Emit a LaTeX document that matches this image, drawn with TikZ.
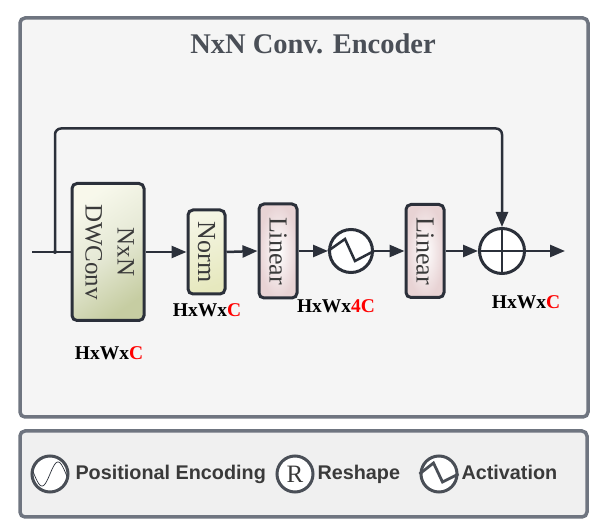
\documentclass[tikz,border=0pt]{standalone}
\usepackage{graphicx}
\usepackage{fontspec}
\setmainfont{Liberation Serif}
\newfontfamily\legendfont{Liberation Sans}
\usetikzlibrary{arrows.meta}

\definecolor{framegray}{HTML}{6F7580}
\definecolor{linedark}{HTML}{2B303A}
\definecolor{titlegray}{HTML}{4A4F57}
\definecolor{textgray}{HTML}{3A3A3A}
\definecolor{olive}{HTML}{C6CDA2}
\definecolor{paleyellow}{HTML}{E6E8BE}
\definecolor{dustypink}{HTML}{E0C4C6}

\newcommand{\turned}[1]{\rotatebox{-90}{#1}}

\tikzset{
  panel/.style={draw=framegray,line width=3.5pt,rounded corners=5pt,inner sep=0pt},
  block/.style={draw=linedark,line width=3pt,rounded corners=5pt,inner sep=0pt,text=textgray,font=\fontsize{26}{32}\selectfont},
  opcircle/.style={circle,draw=linedark,fill=white,line width=3pt,inner sep=0pt,minimum size=43pt},
  keycircle/.style={circle,draw=titlegray,fill=white,line width=3pt,inner sep=0pt,minimum size=36pt},
  link/.style={draw=linedark,line width=2.5pt},
  flow/.style={link,-{Triangle[length=15pt,width=12pt]}},
  shape label/.style={font=\fontsize{19.5}{22}\selectfont\bfseries},
  key label/.style={font=\legendfont\fontsize{19.8}{24}\selectfont\bfseries,text=textgray,anchor=base west}
}

\begin{document}
\begin{tikzpicture}[x=1pt,y=-1pt]
  \useasboundingbox (0,0) rectangle (595,526);

  % panels
  \node[panel,fill=white!96!black,minimum width=568pt,minimum height=399pt] (encoder) at (304,217.5) {};
  \node[panel,fill=white!94!black,minimum width=567pt,minimum height=86pt] (legend) at (303.5,474) {};
  \node[font=\fontsize{28.5}{32}\selectfont\bfseries,text=titlegray] (title) at (313,44) {NxN Conv. Encoder};

  % blocks
  \node[block,minimum width=72pt,minimum height=137pt,top color=white!70!paleyellow,bottom color=olive,middle color=olive!45!white,shading angle=35,font=\fontsize{25}{32}\selectfont] (dwconv) at (108,252) {\turned{\begin{tabular}{@{}c@{}}NxN\\DWConv\end{tabular}}};
  \node[block,minimum width=37pt,minimum height=84pt,top color=white!60!paleyellow,bottom color=paleyellow,shading angle=20] (norm) at (206.5,252) {\turned{Norm}};
  \node[block,minimum width=38pt,minimum height=94pt,inner color=white,outer color=dustypink!75!white] (linearA) at (278,251) {\turned{Linear}};
  \node[opcircle] (act) at (351,251) {};
  \node[block,minimum width=38pt,minimum height=93pt,inner color=white,outer color=dustypink!75!white] (linearB) at (425,251) {\turned{Linear}};
  \node[opcircle,minimum size=45pt] (add) at (502,251) {};

  % symbols
  \draw[link] (act.west) -- ++(17,-12) -- ++(10,22) -- (act.east);
  \draw[link] (add.west) -- (add.east);
  \draw[link] (add.north) -- (add.south);

  % free ends
  \coordinate (input) at (32,252);
  \coordinate (branch) at (55,252);
  \coordinate (looptop) at (502,128.5);
  \coordinate (output) at (565,251);

  % connections
  \draw[link] (input) -- (dwconv.west);
  \fill[linedark] (branch) circle (2pt);
  \draw[flow] (dwconv.east) -- (norm.west);
  \draw[flow] (norm.east) -- (linearA.west);
  \draw[flow] (linearA.east) -- (act.west);
  \draw[flow] (act.east) -- (linearB.west);
  \draw[flow] (linearB.east) -- (add.west);
  \draw[flow] (add.east) -- (output);
  \draw[flow,rounded corners=6pt] (branch) -- (branch |- looptop) -- (looptop) -- (add.north);

  % shapes
  \node[shape label] (shapeA) at (109,353) {HxWx\textcolor{red}{C}};
  \node[shape label] (shapeB) at (207,310) {HxWx\textcolor{red}{C}};
  \node[shape label] (shapeC) at (336,306) {HxWx\textcolor{red}{4C}};
  \node[shape label] (shapeD) at (526,302) {HxWx\textcolor{red}{C}};

  % legend
  \node[keycircle] (keypos) at (50,474) {};
  \draw[domain=-17:17,variable=\x,samples=50,line width=0.7pt,color=linedark] plot({50+\x},{474-12*sin(\x*11.25)});
  \node[key label] (keyposlabel) at (72,480) {Positional Encoding};
  \node[keycircle,font=\fontsize{25}{28}\selectfont,text=textgray] (keyres) at (295,474) {R};
  \node[key label] (keyreslabel) at (314,480) {Reshape};
  \node[keycircle] (keyact) at (439,474) {};
  \draw[titlegray,line width=2.8pt] (keyact.west) -- ++(14,-11) -- ++(9,19) -- (keyact.east);
  \node[key label] (keyactlabel) at (458,480) {Activation};

\end{tikzpicture}
\end{document}
